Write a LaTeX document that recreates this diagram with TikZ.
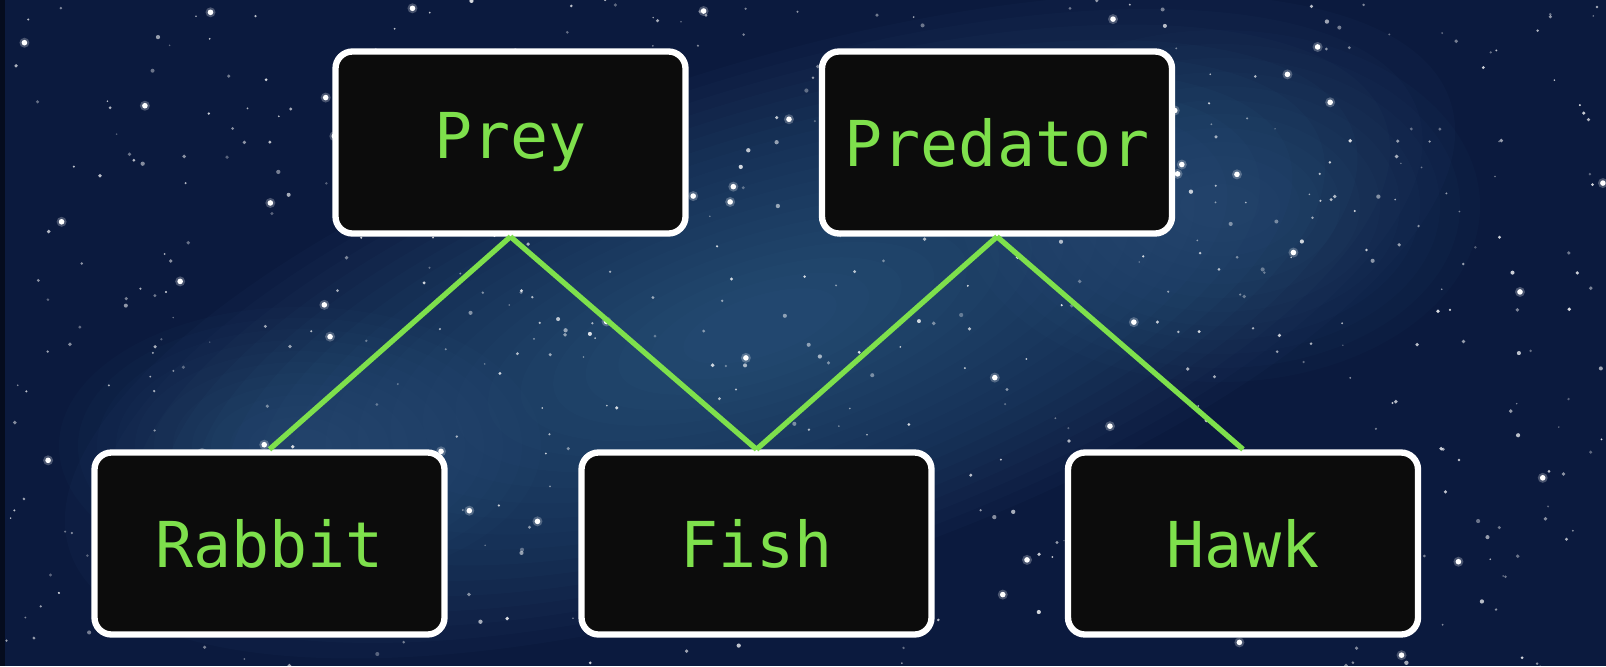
\documentclass[tikz,border=0pt]{standalone}
\usepackage{fontspec}
\setmonofont{DejaVu Sans Mono}
\usepackage{xcolor}
\usepackage{tikz}
\definecolor{skynavy}{HTML}{0B1A3E}
\definecolor{skyblue}{HTML}{3F729C}
\definecolor{leafgreen}{HTML}{7EE04C}
\definecolor{boxblack}{HTML}{0C0C0C}
\tikzset{
  animal/.style={draw=white, line width=1.8pt, fill=boxblack, rounded corners=0.17cm,
    minimum width=3.5cm, minimum height=1.82cm, inner sep=0pt,
    text=leafgreen, font=\ttfamily\fontsize{18}{22}\selectfont},
  link/.style={leafgreen, line width=1.5pt}
}
\begin{document}
\begin{tikzpicture}
\useasboundingbox (0,0) rectangle (16.06,6.66);
% night sky
\fill [skynavy] (0,0) rectangle (16.06,6.66);
\begin{scope}
\clip (0,0) rectangle (16.06,6.66);
\foreach \k in {1,...,20} {
  \fill [skyblue, opacity=0.045, rotate around={18:(7.6,3.4)}] (7.6,3.4) ellipse ({7.6-0.34*\k} and {2.7-0.12*\k});
}
\foreach \k in {1,...,12} {
  \fill [skyblue, opacity=0.035] (12.2,4.6) ellipse ({2.8-0.2*\k} and {1.9-0.14*\k});
  \fill [skyblue, opacity=0.035] (3.0,2.2) ellipse ({2.6-0.19*\k} and {1.5-0.11*\k});
}
\fill [black, opacity=0.5] (0,0) rectangle (0.05,6.66);
\pgfmathsetseed{4711}
\foreach \i in {1,...,560} {
  \pgfmathsetmacro\sx{rnd*16.06}
  \pgfmathsetmacro\sy{rnd*6.66}
  \pgfmathsetmacro\sr{0.008+0.014*rnd}
  \pgfmathsetmacro\so{0.3+0.55*rnd}
  \fill [white, opacity=\so] (\sx,\sy) circle (\sr);
}
\foreach \i in {1,...,70} {
  \pgfmathsetmacro\sx{rnd*16.06}
  \pgfmathsetmacro\sy{rnd*6.66}
  \fill [white, opacity=0.25] (\sx,\sy) circle (0.05);
  \fill [white] (\sx,\sy) circle (0.028);
}
\end{scope}
% boxes
\node [animal] (prey) at (5.105,5.235) {Prey};
\node [animal] (predator) at (9.97,5.235) {Predator};
\node [animal] (rabbit) at (2.695,1.225) {Rabbit};
\node [animal] (fish) at (7.565,1.225) {Fish};
\node [animal] (hawk) at (12.43,1.225) {Hawk};
% links
\draw [link] (prey.south) -- (rabbit.north);
\draw [link] (prey.south) -- (fish.north);
\draw [link] (predator.south) -- (fish.north);
\draw [link] (predator.south) -- (hawk.north);
\end{tikzpicture}
\end{document}
